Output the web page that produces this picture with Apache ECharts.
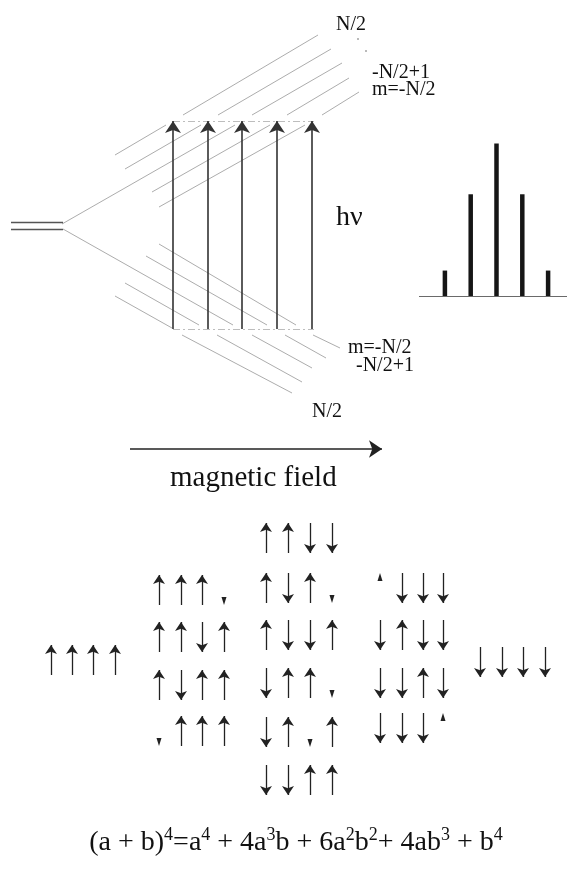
<!DOCTYPE html>
<html>
<head>
<meta charset="utf-8">
<title>Zeeman levels and spin configurations</title>
<script src="https://cdn.jsdelivr.net/npm/echarts@6/dist/echarts.min.js"></script>
<style>
  html, body { margin: 0; padding: 0; background: #fff; }
  #chart { width: 567px; height: 874px; }
</style>
</head>
<body>
<div id="chart"></div>
<script>
// ---- data (page pixels, y downwards) ----
const zeroFieldX = [11, 63];
const zeroFieldY = [222, 229];

// fan of levels: [x1, y1, x2, y2], broken where they meet the transition rows
const upperFan = [
  [115, 155, 166, 125], [183, 115, 318, 35],
  [125, 169, 201, 125], [218, 115, 331, 49],
  [62, 224, 235, 125], [252, 115, 342, 63],
  [152, 192, 270, 125], [287, 115, 349, 78],
  [159, 207, 305, 125], [322, 115, 359, 92]
];
const lowerFan = [
  [159, 244, 296, 325], [313, 335, 340, 348],
  [146, 256, 267, 325], [285, 335, 326, 358],
  [63, 229, 233, 325], [252, 335, 312, 368],
  [125, 283, 199, 325], [217, 335, 302, 382],
  [115, 296, 172, 328], [182, 335, 292, 393]
];
const strayDots = [[358, 39], [366, 51]];

const levelRowY = [121, 329];
const levelRowX = [173, 314];
const transitionX = [173, 208, 242, 277, 312];

// spectrum: relative line intensities
const peakNames = ['-2', '-1', '0', '+1', '+2'];
const peakHeights = [1, 4, 6, 4, 1];
const spectrumBaseX = [419, 567];
const spectrumBaseY = 296;

const fieldArrowX = [130, 382];
const fieldArrowY = 449;

// spin configurations: u/d = arrow up/down, U/D = only the head printed
const spinColX = [
  [51, 72, 93, 115],
  [159, 181, 202, 224],
  [266, 288, 310, 332],
  [380, 402, 423, 443],
  [480, 502, 523, 545]
];
const spinRowY = [
  [645],
  [575, 622, 670, 716],
  [523, 573, 620, 668, 717, 765],
  [573, 620, 668, 713],
  [647]
];
const spinRows = [
  ['uuuu'],
  ['uuuD', 'uudu', 'uduu', 'Duuu'],
  ['uudd', 'uduD', 'uddu', 'duuD', 'duDu', 'dduu'],
  ['Uddd', 'dudd', 'ddud', 'dddU'],
  ['dddd']
];

const labelText = ['N/2', '-N/2+1', 'm=-N/2', 'hν', 'm=-N/2', '-N/2+1', 'N/2', 'magnetic field'];
const labelX = [336, 372, 372, 336, 348, 356, 312, 170];
const labelY = [25, 73, 90, 218, 348, 366, 412, 478];

const formulaParts = [
  ['(a + b)', '4'], ['=a', '4'], [' + 4a', '3'], ['b + 6a', '2'],
  ['b', '2'], ['+ 4ab', '3'], [' + b', '4']
];
const formulaX = 296;
const formulaY = 843;

// ---- drawing ----
const SERIF = "'Liberation Serif', 'Times New Roman', serif";
const INK = '#111';
const SPIN_LEN = 30;
const labelSize = [20, 20, 20, 28, 20, 20, 20, 29];

const chart = echarts.init(document.getElementById('chart'));

function seg(r) {
  return { coords: [[r[0], r[1]], [r[2], r[3]]] };
}

const spinLines = [];
const spinHeads = [];
spinRows.forEach(function (group, g) {
  group.forEach(function (row, r) {
    const top = spinRowY[g][r];
    row.split('').forEach(function (s, c) {
      const x = spinColX[g][c];
      if (s === 'u') spinLines.push({ coords: [[x, top + SPIN_LEN], [x, top]] });
      else if (s === 'd') spinLines.push({ coords: [[x, top], [x, top + SPIN_LEN]] });
      else if (s === 'U') spinHeads.push({ value: [x, top + 4], symbolRotate: 0 });
      else spinHeads.push({ value: [x, top + SPIN_LEN - 4], symbolRotate: 180 });
    });
  });
});

const formulaRich = formulaParts.map(function (p) {
  return '{m|' + p[0] + '}{s|' + p[1] + '}';
}).join('');

chart.setOption({
  animation: false,
  backgroundColor: '#ffffff',
  grid: [
    { left: 0, right: 0, top: 0, bottom: 0 },
    // spectrum box, bars centred at 445..548
    { left: 432, width: 129, top: 143.4, height: 152.6 }
  ],
  xAxis: [
    { type: 'value', min: 0, max: 567, show: false },
    { type: 'category', gridIndex: 1, data: peakNames, show: false }
  ],
  yAxis: [
    { type: 'value', min: 0, max: 874, inverse: true, show: false },
    { type: 'value', gridIndex: 1, min: 0, max: 6, show: false }
  ],
  series: [
    {
      name: 'fan',
      type: 'lines',
      coordinateSystem: 'cartesian2d',
      silent: true,
      lineStyle: { color: '#a3a3a3', width: 0.9, opacity: 1 },
      data: upperFan.concat(lowerFan).map(seg)
    },
    {
      name: 'levels',
      type: 'lines',
      coordinateSystem: 'cartesian2d',
      silent: true,
      lineStyle: { color: '#bdbdbd', width: 1, type: [7, 3, 2, 3], opacity: 1 },
      data: levelRowY.map(function (y) {
        return { coords: [[levelRowX[0], y], [levelRowX[1], y]] };
      })
    },
    {
      name: 'zero field',
      type: 'lines',
      coordinateSystem: 'cartesian2d',
      silent: true,
      lineStyle: { color: '#555', width: 1.3, opacity: 1 },
      data: zeroFieldY.map(function (y) {
        return { coords: [[zeroFieldX[0], y], [zeroFieldX[1], y]] };
      })
    },
    {
      name: 'transitions',
      type: 'lines',
      coordinateSystem: 'cartesian2d',
      silent: true,
      symbol: ['none', 'arrow'],
      symbolSize: [6.5, 12],
      symbolOffset: [0, 6],
      lineStyle: { color: '#333', width: 1.6, opacity: 1 },
      data: transitionX.map(function (x) {
        return { coords: [[x, levelRowY[1]], [x, levelRowY[0]]] };
      })
    },
    {
      name: 'field',
      type: 'lines',
      coordinateSystem: 'cartesian2d',
      silent: true,
      symbol: ['none', 'arrow'],
      symbolSize: [6, 13],
      symbolOffset: [0, 6.5],
      lineStyle: { color: '#222', width: 1.5, opacity: 1 },
      data: [{ coords: [[fieldArrowX[0], fieldArrowY], [fieldArrowX[1], fieldArrowY]] }]
    },
    {
      name: 'spectrum base',
      type: 'lines',
      coordinateSystem: 'cartesian2d',
      silent: true,
      lineStyle: { color: '#6a6a6a', width: 1.2, opacity: 1 },
      data: [{ coords: [[spectrumBaseX[0], spectrumBaseY], [spectrumBaseX[1], spectrumBaseY]] }]
    },
    {
      name: 'spectrum',
      type: 'bar',
      xAxisIndex: 1,
      yAxisIndex: 1,
      barWidth: 4.5,
      silent: true,
      itemStyle: { color: '#161616' },
      data: peakHeights
    },
    {
      name: 'spins',
      type: 'lines',
      coordinateSystem: 'cartesian2d',
      silent: true,
      symbol: ['none', 'arrow'],
      symbolSize: [5.5, 9],
      symbolOffset: [0, 4.5],
      lineStyle: { color: '#222', width: 1.3, opacity: 1 },
      data: spinLines
    },
    {
      name: 'spin heads',
      type: 'scatter',
      silent: true,
      symbol: 'triangle',
      symbolSize: [5, 8],
      itemStyle: { color: '#222', opacity: 1 },
      data: spinHeads
    },
    {
      name: 'dots',
      type: 'scatter',
      silent: true,
      symbolSize: 2,
      itemStyle: { color: '#a3a3a3', opacity: 1 },
      data: strayDots
    },
    {
      name: 'labels',
      type: 'scatter',
      silent: true,
      symbolSize: 0,
      itemStyle: { opacity: 1 },
      label: {
        show: true,
        position: 'right',
        distance: 0,
        color: INK,
        opacity: 1,
        fontFamily: SERIF
      },
      data: labelText.map(function (t, i) {
        return {
          value: [labelX[i], labelY[i]],
          label: { formatter: t, fontSize: labelSize[i] }
        };
      })
    },
    {
      name: 'formula',
      type: 'scatter',
      silent: true,
      symbolSize: 0,
      itemStyle: { opacity: 1 },
      label: {
        show: true,
        position: 'inside',
        opacity: 1,
        formatter: formulaRich,
        rich: {
          m: { fontFamily: SERIF, fontSize: 28, lineHeight: 34, color: INK, verticalAlign: 'middle' },
          s: { fontFamily: SERIF, fontSize: 18, lineHeight: 18, color: INK, verticalAlign: 'top' }
        }
      },
      data: [[formulaX, formulaY]]
    }
  ]
});
</script>
</body>
</html>
